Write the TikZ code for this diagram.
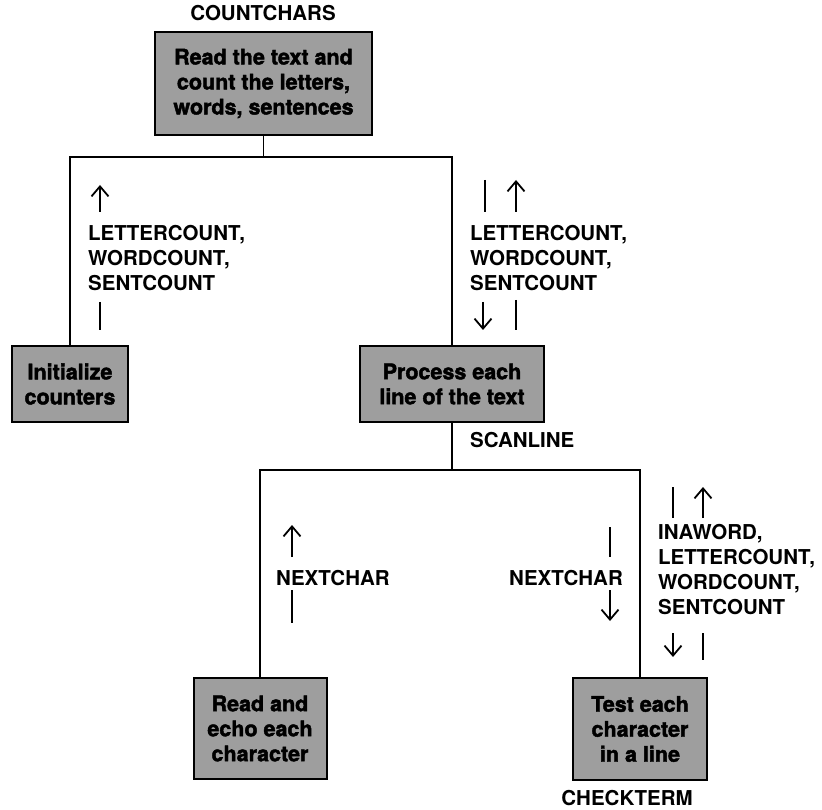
\documentclass[tikz,border=0pt]{standalone}
\usepackage{fontspec}
\setmainfont{TeX Gyre Heros}
\usetikzlibrary{arrows.meta}

\tikzset{
  module/.style={draw, line width=2pt, fill=black!38,
    font=\fontsize{21.5}{25}\selectfont\bfseries\addfontfeature{FakeBold=2},
    align=center, inner sep=0pt},
  dataname/.style={font=\fontsize{20.5}{25}\selectfont\bfseries, align=left, inner sep=0pt},
  link/.style={line width=1.6pt},
  dataflow/.style={line width=1.8pt, -{Straight Barb[length=10pt,width=17pt,line width=1.8pt]}},
  databar/.style={line width=1.8pt},
}

\begin{document}
\begin{tikzpicture}[x=1pt,y=-1pt]
    \useasboundingbox (0,0) rectangle (822,810);

    % --- 1. modules ---
    \node[module, minimum width=217pt, minimum height=103pt] (main) at (263.5,83.5)
        {Read the text and\\count the letters,\\words, sentences};
    \node[module, minimum width=116pt, minimum height=76pt] (init) at (70,384)
        {Initialize\\counters};
    \node[module, minimum width=184pt, minimum height=76pt] (proc) at (452,384)
        {Process each\\line of the text};
    \node[module, minimum width=133pt, minimum height=101pt] (echo) at (260,728.5)
        {Read and\\echo each\\character};
    \node[module, minimum width=134pt, minimum height=102pt] (test) at (640,729)
        {Test each\\character\\in a line};

    % --- 2. module names ---
    \node[dataname, anchor=base] (ncount) at (263,21) {COUNTCHARS};
    \node[dataname, anchor=base west] (nscan) at (470,447) {SCANLINE};
    \node[dataname, anchor=base] (ncheck) at (627,805) {CHECKTERM};

    % --- 3. tree lines ---
    \coordinate (j1) at (263.5,157);
    \coordinate (j2) at (452,470);
    \draw[link] (main.south) -- (j1);
    \draw[link] (init.north) |- (j1) -| (proc.north);
    \draw[link] (proc.south) -- (j2);
    \draw[link] (echo.north) |- (j2) -| (test.north);

    % --- 4. data names ---
    \node[dataname, anchor=west] (dinit) at (88,258) {LETTERCOUNT,\\WORDCOUNT,\\SENTCOUNT};
    \node[dataname, anchor=west] (dproc) at (470,258) {LETTERCOUNT,\\WORDCOUNT,\\SENTCOUNT};
    \node[dataname, anchor=west] (decho) at (276,578) {NEXTCHAR};
    \node[dataname, anchor=east] (dtest) at (623,578) {NEXTCHAR};
    \node[dataname, anchor=west] (dterm) at (658,570) {INAWORD,\\LETTERCOUNT,\\WORDCOUNT,\\SENTCOUNT};

    % --- 5. data flow arrows (from / to) ---
    \foreach \nm/\x/\ya/\yb/\st in {
        a/100/212/185/dataflow, b/100/302/330/databar,
        c/485/180/212/databar, d/516/212/180/dataflow,
        e/483/302/330/dataflow, f/516/300/330/databar,
        g/292/557/525/dataflow, h/292/590/623/databar,
        i/610/527/557/databar, k/610/590/621/dataflow,
        l/673/487/518/databar, m/703/518/487/dataflow,
        n/673/633/657/dataflow, o/703/633/660/databar}
    {
        \coordinate (\nm1) at (\x,\ya);
        \coordinate (\nm2) at (\x,\yb);
        \draw[\st] (\nm1) -- (\nm2);
    }
\end{tikzpicture}
\end{document}
